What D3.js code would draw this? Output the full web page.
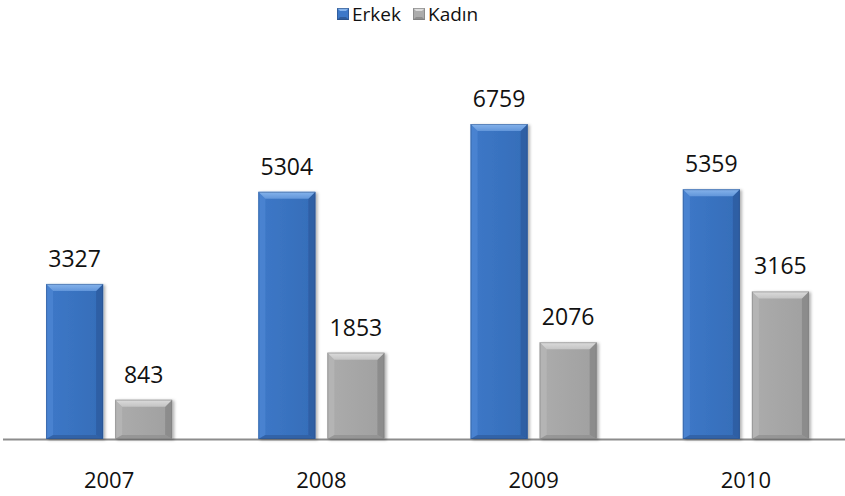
<!DOCTYPE html>
<html>
<head>
<meta charset="utf-8">
<script src="https://cdn.jsdelivr.net/npm/d3@7"></script>
<style>
  html, body { margin: 0; padding: 0; background: #fff; }
  svg { display: block; font-family: "Open Sans", "Noto Sans", sans-serif; }
</style>
</head>
<body>
<svg id="chart" width="845" height="496"></svg>
<script>
// Data
const years = ["2007", "2008", "2009", "2010"];
const seriesNames = ["Erkek", "Kadın"];
const erkek = [3327, 5304, 6759, 5359];
const kadin = [843, 1853, 2076, 3165];

const seriesValues = [erkek, kadin];

const W = 845, H = 496;
const baseY = 439;

const svg = d3.select("#chart");

// Palette for each series: face, top bevel, side bevels, bottom bevel, edge
const palette = {
  "Erkek": { face: "#3d78c8", faceR: "#356db8", top: "#86b4ec", left: "#4f88d4", right: "#2c5a9e", bottom: "#2f5c9c", edge: "#2a4d82" },
  "Kadın": { face: "#acacac", faceR: "#a0a0a0", top: "#dcdcdc", left: "#b8b8b8", right: "#858585", bottom: "#8e8e8e", edge: "#777777" }
};

const defs = svg.append("defs");
const shadow = defs.append("filter").attr("id", "shadow")
  .attr("x", "-20%").attr("y", "-10%").attr("width", "150%").attr("height", "130%");
shadow.append("feDropShadow").attr("dx", 2).attr("dy", 1).attr("stdDeviation", 1.6)
  .attr("flood-color", "#000").attr("flood-opacity", 0.3);

seriesNames.forEach((s, i) => {
  const p = palette[s];
  const g = defs.append("linearGradient").attr("id", "face" + i)
    .attr("x1", 0).attr("x2", 1).attr("y1", 0).attr("y2", 0);
  g.append("stop").attr("offset", "0%").attr("stop-color", p.face);
  g.append("stop").attr("offset", "100%").attr("stop-color", p.faceR);
  const t = defs.append("linearGradient").attr("id", "top" + i)
    .attr("x1", 0).attr("x2", 0).attr("y1", 0).attr("y2", 1);
  t.append("stop").attr("offset", "0%").attr("stop-color", p.top);
  t.append("stop").attr("offset", "100%").attr("stop-color", d3.interpolateRgb(p.top, p.face)(0.5));
});

// Scales
const x0 = d3.scaleBand().domain(years).range([3, 852])
  .paddingInner(0.406).paddingOuter(0.203);
const x1 = d3.scaleBand().domain(seriesNames).range([0, x0.bandwidth()])
  .paddingInner(0.174);
const y = d3.scaleLinear().domain([0, 8000]).range([baseY, baseY - 8000 * (315 / 6759)]);

// Axis baseline
svg.append("line")
  .attr("x1", 3).attr("x2", W).attr("y1", baseY + 0.5).attr("y2", baseY + 0.5)
  .attr("stroke", "#8c8c8c").attr("stroke-width", 2);

// Bars with bevelled edges
const bev = 7;
const groups = svg.selectAll("g.year").data(years).join("g")
  .attr("class", "year")
  .attr("transform", d => `translate(${x0(d)},0)`);

groups.each(function(year, yi) {
  const g = d3.select(this);
  seriesNames.forEach((s, si) => {
    const v = seriesValues[si][yi];
    const p = palette[s];
    const bx = x1(s), bw = x1.bandwidth();
    const top = y(v), bot = y(0);
    const b = Math.min(bev, (bot - top) / 2);
    const bb = 4;
    const bar = g.append("g").attr("filter", "url(#shadow)");
    bar.append("rect").attr("x", bx).attr("y", top).attr("width", bw).attr("height", bot - top)
      .attr("fill", `url(#face${si})`);
    // left bevel
    bar.append("polygon").attr("points", [[bx, top], [bx + b, top + b], [bx + b, bot - bb], [bx, bot]].join(" "))
      .attr("fill", p.left).attr("opacity", 0.7);
    // right bevel
    bar.append("polygon").attr("points", [[bx + bw, top], [bx + bw, bot], [bx + bw - b, bot - bb], [bx + bw - b, top + b]].join(" "))
      .attr("fill", p.right).attr("opacity", 0.75);
    // bottom bevel
    bar.append("polygon").attr("points", [[bx, bot], [bx + b, bot - bb], [bx + bw - b, bot - bb], [bx + bw, bot]].join(" "))
      .attr("fill", p.bottom).attr("opacity", 0.7);
    // top bevel
    bar.append("polygon").attr("points", [[bx, top], [bx + bw, top], [bx + bw - b, top + b], [bx + b, top + b]].join(" "))
      .attr("fill", `url(#top${si})`);
    // outline edge
    bar.append("rect").attr("x", bx + 0.5).attr("y", top + 0.5).attr("width", bw - 1).attr("height", bot - top - 1)
      .attr("fill", "none").attr("stroke", p.edge).attr("stroke-opacity", 0.45).attr("stroke-width", 1);

    // value label
    g.append("text")
      .attr("x", bx + bw / 2).attr("y", top - 17)
      .attr("text-anchor", "middle")
      .attr("font-size", 23).attr("fill", "#111")
      .text(v);
  });
});

// Year labels
svg.selectAll("text.year-label").data(years).join("text")
  .attr("class", "year-label")
  .attr("x", d => x0(d) + x0.bandwidth() / 2)
  .attr("y", 488)
  .attr("text-anchor", "middle")
  .attr("font-size", 22).attr("fill", "#111")
  .text(d => d);

// Legend
const legendX = [337, 413];
const legend = svg.selectAll("g.legend").data(seriesNames).join("g")
  .attr("class", "legend")
  .attr("transform", (d, i) => `translate(${legendX[i]},8)`);
legend.each(function(s, i) {
  const g = d3.select(this);
  const p = palette[s];
  g.append("rect").attr("x", 0).attr("y", 0).attr("width", 12).attr("height", 12).attr("fill", p.face);
  g.append("polygon").attr("points", "0,0 12,0 9,3 3,3").attr("fill", p.top);
  g.append("polygon").attr("points", "0,12 12,12 9,9 3,9").attr("fill", p.bottom);
  g.append("rect").attr("x", 0.5).attr("y", 0.5).attr("width", 11).attr("height", 11)
    .attr("fill", "none").attr("stroke", p.edge).attr("stroke-opacity", 0.6);
  g.append("text").attr("x", 15).attr("y", 13)
    .attr("font-size", 19).attr("fill", "#111").text(s);
});
</script>
</body>
</html>
